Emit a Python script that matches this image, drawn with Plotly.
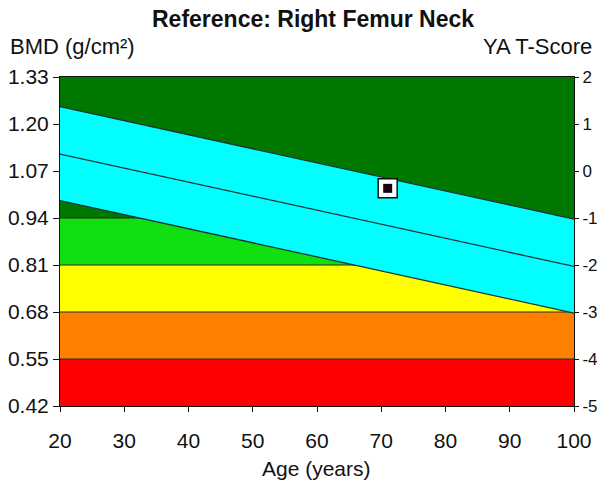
import plotly.graph_objects as go

# ---- data ----
age_range = [20, 100]
age_ticks = [20, 30, 40, 50, 60, 70, 80, 90, 100]
bmd_ticks = [0.42, 0.55, 0.68, 0.81, 0.94, 1.07, 1.20, 1.33]
tscore_ticks = [-5, -4, -3, -2, -1, 0, 1, 2]
tscore_labels = ["-5", "-4", "-3", "-2", "-1", "0", "1", "2"]

band_low = [0.42, 0.55, 0.68, 0.81, 0.94]
band_high = [0.55, 0.68, 0.81, 0.94, 1.33]
band_colors = ["#ff0000", "#ff8000", "#ffff00", "#10e010", "#007800"]

curve_age = [20, 100]
upper_sd = [1.248, 0.937]
mean_curve = [1.117, 0.806]
lower_sd = [0.988, 0.677]

patient_age = [71]
patient_bmd = [1.022]

FONT = "Liberation Sans, Arial, sans-serif"
LINE = "#1b3535"

fig = go.Figure()

for lo, hi, col in zip(band_low, band_high, band_colors):
    fig.add_trace(go.Scatter(
        x=[age_range[0], age_range[1], age_range[1], age_range[0], age_range[0]],
        y=[lo, lo, hi, hi, lo], fill="toself", fillcolor=col,
        mode="none", hoverinfo="skip", showlegend=False))

for lvl in band_high[:-1]:
    fig.add_trace(go.Scatter(x=age_range, y=[lvl, lvl], mode="lines",
                             line=dict(color="#2a2a1a", width=1.2),
                             hoverinfo="skip", showlegend=False))

# cyan +/-1 SD band
fig.add_trace(go.Scatter(
    x=curve_age + curve_age[::-1] + [curve_age[0]],
    y=upper_sd + lower_sd[::-1] + [upper_sd[0]],
    fill="toself", fillcolor="#00ffff", mode="none",
    hoverinfo="skip", showlegend=False))

for ys in (upper_sd, mean_curve, lower_sd):
    fig.add_trace(go.Scatter(x=curve_age, y=ys, mode="lines",
                             line=dict(color=LINE, width=1.3),
                             hoverinfo="skip", showlegend=False))

# patient marker
fig.add_trace(go.Scatter(x=patient_age, y=patient_bmd, mode="markers",
                         marker=dict(symbol="square", size=19, color="white",
                                     line=dict(color="#111111", width=1.5)),
                         showlegend=False))
fig.add_trace(go.Scatter(x=patient_age, y=patient_bmd, mode="markers",
                         marker=dict(symbol="square", size=9, color="#1a0010",
                                     line=dict(width=0)),
                         showlegend=False))

# dummy trace for right axis
fig.add_trace(go.Scatter(x=[None], y=[None], yaxis="y2", showlegend=False))

tick_font = dict(family=FONT, size=21, color="#111111")

fig.update_layout(
    width=597, height=482,
    margin=dict(l=60, r=23, t=77, b=76),
    paper_bgcolor="white", plot_bgcolor="white",
    xaxis=dict(range=age_range, tickvals=age_ticks, ticks="outside", ticklen=5,
               tickcolor="#111111", showline=True, linecolor="#111111", linewidth=1,
               mirror=True, showgrid=False, zeroline=False, tickfont=tick_font,
               ticklabelstandoff=11, fixedrange=True, automargin=False),
    yaxis=dict(range=[bmd_ticks[0], bmd_ticks[-1]], tickvals=bmd_ticks,
               ticktext=[f"{v:.2f}" for v in bmd_ticks], ticks="outside", ticklen=6,
               tickcolor="#111111", showline=True, linecolor="#111111", linewidth=1,
               mirror=True, showgrid=False, zeroline=False, tickfont=tick_font,
               fixedrange=True, automargin=False),
    yaxis2=dict(range=[tscore_ticks[0], tscore_ticks[-1]], tickvals=tscore_ticks,
                ticktext=tscore_labels, overlaying="y", side="right",
                ticks="outside", ticklen=4, tickcolor="#111111", showline=True,
                linecolor="#111111", showgrid=False, zeroline=False,
                tickfont=dict(family=FONT, size=17, color="#111111"),
                ticklabelstandoff=0, fixedrange=True, automargin=False),
    annotations=[
        dict(text="<b>Reference: Right Femur Neck</b>", xref="paper", yref="paper",
             x=(313 - 60) / 514, y=1 + (77 - 19) / 329, xanchor="center", yanchor="middle",
             showarrow=False, font=dict(family=FONT, size=23, color="#111111")),
        dict(text="BMD (g/cm²)", xref="paper", yref="paper",
             x=(8 - 60) / 514, y=1 + (77 - 46) / 329, xanchor="left", yanchor="middle",
             showarrow=False, font=dict(family=FONT, size=22, color="#111111")),
        dict(text="YA T-Score", xref="paper", yref="paper",
             x=(594 - 60) / 514, y=1 + (77 - 47) / 329, xanchor="right", yanchor="middle",
             showarrow=False, font=dict(family=FONT, size=22, color="#111111")),
        dict(text="Age (years)", xref="paper", yref="paper",
             x=(316 - 60) / 514, y=-(468 - 406) / 329, xanchor="center", yanchor="middle",
             showarrow=False, font=tick_font),
    ],
)

fig.write_html("out.html")
